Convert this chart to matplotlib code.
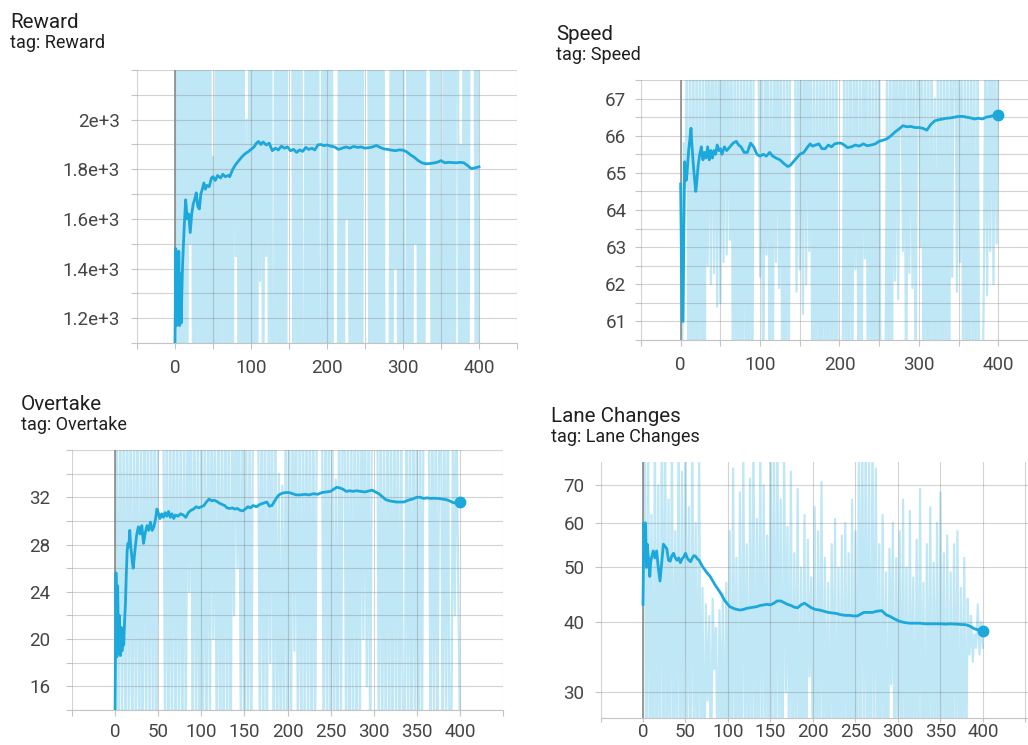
import matplotlib
matplotlib.use("Agg")
import matplotlib.pyplot as plt
from matplotlib.ticker import FixedLocator, FuncFormatter, NullFormatter, NullLocator

plt.rcParams['font.family'] = ['Roboto', 'DejaVu Sans']

# ---------------------------------------------------------------- data
RAW_STEPS = list(range(0, 401, 2))

REWARD_RAW = [
    1100, 2600, 420, 2900, 380, 2750, 600, 3000, 450, 2800,
    1500, 2900, 500, 2700, 350, 3100, 700, 2650, 400, 2950,
    550, 2800, 300, 3050, 620, 1850, 450, 2900, 380, 2750,
    700, 3150, 420, 2600, 530, 2950, 340, 2800, 610, 3000,
    1450, 2700, 450, 3100, 380, 2850, 520, 2000, 400, 2900,
    650, 2750, 330, 3050, 560, 2800, 1350, 3000, 480, 2650,
    1450, 2900, 400, 3200, 520, 700, 2800, 450, 2950, 300,
    2700, 550, 3050, 420, 2850, 3100, 2900, 2600, 640, 2950,
    500, 2800, 360, 3000, 600, 450, 2750, 520, 3150, 410,
    2900, 330, 2650, 570, 3050, 440, 620, 2800, 380, 2950,
    480, 2700, 350, 3100, 560, 410, 500, 600, 2750, 320,
    3000, 470, 2650, 1600, 2800, 540, 3050, 390, 2900, 610,
    2750, 430, 3150, 350, 2850, 2950, 2850, 2700, 460, 3000,
    580, 2800, 340, 2950, 610, 2650, 420, 3100, 500, 380,
    480, 560, 2700, 450, 3050, 1400, 2850, 390, 2750, 620,
    3000, 410, 560, 2800, 470, 2950, 350, 2700, 1500, 3100,
    520, 2650, 380, 3000, 600, 2850, 2750, 3000, 2900, 330,
    2800, 490, 3050, 560, 2700, 400, 620, 2950, 350, 2750,
    580, 3100, 450, 2850, 520, 2700, 2950, 400, 1900, 480,
    2900, 370, 2750, 610, 3000, 2800, 2900, 2650, 560, 2950,
    500,
]

SPEED_RAW = [
    64.7, 60.2, 65.8, 64.6, 69.0, 57.5, 68.5, 58.0, 69.5, 56.8,
    68.8, 57.2, 69.2, 58.3, 68.0, 56.5, 69.8, 62.5, 68.7, 62.0,
    69.1, 62.3, 68.4, 61.4, 69.3, 61.5, 68.9, 62.6, 69.6, 62.8,
    68.2, 63.2, 69.0, 57.4, 68.6, 58.2, 69.4, 56.9, 68.1, 58.8,
    69.7, 57.6, 68.3, 58.1, 69.2, 57.3, 68.8, 69.4, 68.2, 68.5,
    62.2, 69.0, 57.1, 68.7, 62.8, 69.5, 57.7, 68.4, 58.9, 69.1,
    62.6, 68.6, 61.9, 69.3, 58.0, 68.1, 57.2, 69.8, 58.5, 68.9,
    69.3, 69.0, 68.5, 61.8, 69.0, 62.4, 68.3, 61.2, 69.6, 62.0,
    68.7, 62.9, 69.2, 57.3, 68.4, 58.1, 69.0, 57.8, 68.6, 57.0,
    69.4, 58.3, 68.2, 57.4, 69.1, 58.7, 68.8, 57.1, 69.5, 58.0,
    57.5, 58.2, 58.6, 69.3, 57.2, 68.0, 58.9, 69.7, 57.6, 68.5,
    62.4, 69.0, 57.8, 68.3, 58.4, 69.4, 62.7, 68.6, 57.0, 69.2,
    58.5, 68.1, 57.3, 69.6, 58.0, 68.7, 57.9, 57.4, 57.8, 58.8,
    68.4, 57.6, 69.5, 58.3, 68.9, 62.1, 69.2, 61.6, 68.6, 68.0,
    62.9, 69.3, 57.7, 68.5, 62.3, 69.1, 61.9, 68.2, 58.4, 69.7,
    69.0, 63.0, 68.8, 57.5, 69.4, 58.1, 68.1, 57.3, 69.0, 58.6,
    67.0, 57.9, 68.7, 58.2, 69.3, 57.0, 68.5, 58.7, 69.1, 57.4,
    68.3, 62.2, 69.6, 68.9, 61.8, 69.2, 62.6, 68.4, 57.8, 69.0,
    58.1, 68.6, 57.4, 69.3, 58.9, 68.0, 57.2, 69.5, 58.3, 57.6,
    58.0, 62.4, 69.1, 61.7, 68.5, 62.9, 69.4, 62.0, 68.8, 63.1,
    68.0,
]

OVERTAKE_RAW = [
    14.0, 40.5, 9.5, 42.0, 11.0, 39.5, 8.5, 43.0, 10.5, 41.0,
    9.0, 40.0, 11.5, 42.5, 8.0, 39.0, 10.0, 44.0, 9.5, 41.5,
    11.0, 40.5, 8.5, 42.0, 10.0, 41.0, 43.0, 40.0, 39.5, 11.0,
    42.5, 8.0, 40.0, 10.5, 43.5, 9.0, 41.0, 11.5, 39.0, 8.5,
    42.0, 10.0, 40.5, 24.0, 43.0, 9.5, 41.5, 11.0, 39.5, 8.0,
    42.5, 10.5, 40.0, 9.0, 43.5, 11.5, 41.0, 20.0, 39.0, 8.5,
    42.0, 10.0, 40.5, 9.5, 43.0, 11.0, 41.5, 8.0, 39.5, 22.0,
    42.5, 26.0, 40.0, 10.5, 43.5, 9.0, 41.0, 11.5, 39.0, 8.5,
    42.0, 41.0, 40.0, 40.5, 9.5, 43.0, 11.0, 41.5, 8.0, 39.5,
    18.0, 42.5, 10.5, 40.0, 9.0, 34.0, 11.0, 33.0, 9.5, 42.0,
    10.5, 40.5, 8.5, 43.0, 19.0, 41.5, 11.0, 39.0, 9.0, 42.5,
    10.0, 40.0, 11.5, 43.5, 8.0, 41.0, 9.5, 39.5, 42.0, 41.0,
    40.5, 9.0, 43.0, 11.0, 41.5, 8.5, 39.0, 10.0, 33.5, 9.5,
    42.0, 11.5, 40.0, 43.5, 8.0, 41.0, 10.0, 39.5, 9.0, 42.5,
    10.5, 40.5, 11.0, 43.0, 20.0, 41.5, 16.0, 39.0, 8.5, 42.0,
    40.0, 41.5, 43.5, 9.5, 41.0, 11.5, 39.5, 8.0, 42.5, 10.5,
    40.5, 9.0, 43.0, 11.0, 41.5, 8.5, 39.0, 10.0, 9.5, 42.0,
    11.5, 40.0, 8.0, 43.5, 10.0, 41.0, 9.0, 39.5, 10.5, 42.5,
    41.0, 40.0, 40.5, 8.5, 43.0, 10.0, 41.5, 9.5, 39.0, 42.0,
    10.5, 40.0, 11.5, 43.5, 9.0, 8.5, 41.0, 22.0, 39.5, 25.0,
    12.0,
]

LANE_RAW = [
    43, 95, 18, 88, 22, 62, 16, 90, 20, 70,
    19, 85, 24, 100, 17, 66, 21, 92, 18, 58,
    23, 97, 16, 74, 20, 88, 25, 64, 19, 93,
    22, 60, 17, 80, 21, 46, 18, 43, 29, 41,
    20, 44, 33, 39, 19, 42, 24, 45, 18, 47,
    21, 58, 17, 75, 23, 52, 16, 68, 20, 80,
    24, 55, 18, 72, 21, 90, 17, 61, 22, 85,
    19, 70, 25, 57, 16, 95, 20, 88, 18, 100,
    22, 66, 17, 82, 30, 59, 21, 74, 19, 53,
    23, 69, 16, 50, 20, 62, 18, 56, 32, 48,
    21, 64, 17, 58, 23, 71, 19, 52, 22, 47,
    18, 55, 24, 61, 16, 50, 21, 57, 19, 60,
    22, 53, 17, 66, 20, 58, 18, 85, 23, 95,
    19, 90, 21, 80, 16, 88, 24, 75, 20, 55,
    18, 62, 22, 49, 17, 54, 31, 60, 20, 52,
    23, 58, 19, 66, 21, 50, 17, 63, 24, 48,
    18, 56, 22, 69, 20, 47, 16, 55, 21, 64,
    19, 51, 23, 60, 17, 68, 22, 53, 20, 57,
    18, 49, 21, 55, 24, 58, 17, 46, 22, 52,
    19, 44, 35, 41, 34, 38, 36, 43, 35, 40,
    36,
]

REWARD_STEPS = [0, 1, 2, 3, 4, 5, 6, 7, 8, 9, 10, 12, 14, 16, 18, 20, 22, 24,
                26, 28, 30, 32, 34, 36, 38, 40, 42, 45, 48, 50, 53, 56, 60, 63,
                66, 70, 72, 76, 80, 84, 88, 92, 96, 100, 104, 107, 110, 113, 116,
                120, 124, 128, 132, 136, 140, 144, 148, 152, 156, 160, 164, 168,
                172, 176, 180, 184, 188, 192, 196, 200, 205, 210, 215, 220, 225,
                230, 235, 240, 245, 250, 255, 260, 265, 270, 275, 280, 285, 290,
                295, 300, 305, 310, 315, 320, 325, 330, 335, 340, 345, 350, 355,
                360, 365, 370, 375, 380, 385, 390, 395, 400]
REWARD_SMOOTH = [1100, 1480, 1170, 1450, 1200, 1470, 1170, 1380, 1180, 1300,
                 1420, 1560, 1677, 1600, 1620, 1545, 1620, 1660, 1680, 1705,
                 1650, 1640, 1700, 1720, 1745, 1720, 1735, 1730, 1765, 1770,
                 1755, 1775, 1765, 1780, 1770, 1775, 1770, 1800, 1820, 1835,
                 1850, 1862, 1870, 1880, 1890, 1905, 1912, 1900, 1910, 1898,
                 1905, 1875, 1885, 1878, 1893, 1885, 1890, 1875, 1880, 1868,
                 1878, 1872, 1888, 1880, 1885, 1878, 1898, 1900, 1895, 1898,
                 1893, 1890, 1880, 1885, 1890, 1885, 1892, 1888, 1890, 1885,
                 1887, 1890, 1896, 1888, 1882, 1880, 1877, 1875, 1878, 1877,
                 1870, 1858, 1848, 1835, 1826, 1822, 1823, 1825, 1828, 1835,
                 1826, 1828, 1827, 1826, 1828, 1826, 1815, 1802, 1806, 1810]

SPEED_STEPS = [0, 1, 2, 3, 4, 5, 6, 7, 8, 9, 10, 12, 13, 14, 16, 18, 19, 20,
               22, 24, 26, 28, 30, 32, 34, 36, 38, 40, 42, 44, 46, 48, 50, 52,
               55, 58, 62, 66, 70, 73, 76, 80, 84, 88, 92, 96, 100, 104, 108,
               112, 116, 120, 125, 130, 135, 138, 142, 146, 150, 155, 160, 163,
               166, 170, 174, 178, 182, 186, 190, 194, 198, 202, 206, 210, 215,
               220, 225, 230, 235, 240, 245, 250, 255, 260, 265, 270, 275, 280,
               285, 290, 295, 300, 305, 310, 315, 320, 325, 330, 335, 340, 345,
               350, 355, 360, 365, 370, 375, 380, 385, 390, 395, 400]
SPEED_SMOOTH = [64.7, 62.5, 61.0, 61.0, 63.5, 65.3, 65.0, 64.8, 65.0, 65.3,
                65.6, 66.0, 66.2, 65.8, 65.2, 64.7, 64.5, 64.7, 65.2, 65.5,
                65.7, 65.35, 65.55, 65.4, 65.7, 65.35, 65.6, 65.4, 65.6, 65.5,
                65.75, 65.6, 65.65, 65.5, 65.7, 65.6, 65.7, 65.8, 65.85, 65.75,
                65.7, 65.55, 65.55, 65.8, 65.7, 65.5, 65.45, 65.5, 65.45, 65.55,
                65.45, 65.4, 65.35, 65.25, 65.17, 65.2, 65.3, 65.4, 65.5, 65.55,
                65.7, 65.78, 65.72, 65.75, 65.78, 65.65, 65.65, 65.75, 65.7,
                65.78, 65.8, 65.8, 65.75, 65.68, 65.7, 65.75, 65.72, 65.78,
                65.73, 65.75, 65.78, 65.85, 65.88, 65.92, 66.0, 66.1, 66.18,
                66.27, 66.24, 66.25, 66.22, 66.22, 66.2, 66.15, 66.3, 66.4,
                66.43, 66.45, 66.47, 66.48, 66.5, 66.52, 66.52, 66.5, 66.48,
                66.45, 66.47, 66.45, 66.5, 66.52, 66.55, 66.57]

OVERTAKE_STEPS = [0, 1, 2, 3, 4, 5, 6, 7, 8, 9, 10, 11, 12, 13, 14, 15, 16, 17,
                  18, 20, 21, 23, 25, 27, 29, 31, 33, 35, 37, 39, 41, 43, 45, 47,
                  48.5, 50, 52, 54, 56, 58, 60, 62, 64, 66, 68, 70, 73, 76, 79,
                  82, 85, 88, 91, 94, 97, 100, 103, 106, 109, 112, 115, 118, 121,
                  124, 127, 130, 133, 136, 139, 142, 145, 148, 151, 154, 157, 160,
                  164, 168, 172, 176, 179, 182, 186, 190, 194, 198, 202, 206, 210,
                  215, 220, 225, 230, 235, 240, 245, 250, 254, 257, 260, 264, 268,
                  272, 276, 280, 285, 290, 295, 298, 302, 306, 310, 314, 318, 322,
                  326, 330, 335, 340, 345, 350, 354, 358, 362, 366, 370, 375, 380,
                  384, 388, 392, 396, 400]
OVERTAKE_SMOOTH = [14.0, 25.6, 18.5, 24.5, 18.8, 22.0, 18.6, 21.0, 19.0, 20.5,
                   19.5, 21.5, 23.0, 25.5, 27.5, 28.1, 27.8, 29.2, 28.0, 26.5,
                   26.0, 27.5, 28.8, 29.5, 28.9, 29.6, 28.1, 29.0, 29.6, 29.2,
                   29.9, 29.2, 29.5, 30.2, 31.0, 30.7, 30.2, 30.6, 30.3, 30.7,
                   30.4, 30.8, 30.3, 30.6, 30.2, 30.5, 30.4, 30.6, 30.5, 30.3,
                   30.7, 30.9, 31.0, 31.2, 31.1, 31.2, 31.3, 31.6, 31.85, 31.7,
                   31.75, 31.65, 31.5, 31.4, 31.3, 31.1, 31.05, 31.1, 31.0, 31.05,
                   30.9, 30.85, 31.0, 31.2, 31.1, 31.3, 31.2, 31.4, 31.5, 31.6,
                   31.25, 31.3, 31.8, 32.2, 32.35, 32.4, 32.4, 32.3, 32.2, 32.2,
                   32.25, 32.2, 32.3, 32.25, 32.4, 32.45, 32.5, 32.7, 32.85, 32.8,
                   32.7, 32.5, 32.55, 32.5, 32.55, 32.5, 32.45, 32.55, 32.6, 32.45,
                   32.3, 32.05, 31.8, 31.7, 31.65, 31.6, 31.6, 31.6, 31.75, 31.85,
                   32.0, 32.0, 31.9, 31.95, 31.9, 31.92, 31.9, 31.85, 31.8, 31.7,
                   31.55, 31.5, 31.6]

LANE_STEPS = [0, 1, 2, 3, 4, 5, 6, 7, 8, 9, 10, 12, 14, 16, 18, 20, 22, 24, 26,
              28, 30, 32, 34, 36, 38, 40, 42, 44, 46, 48, 50, 52, 54, 56, 58, 60,
              62, 64, 66, 70, 75, 79, 85, 91, 96, 102, 108, 114, 118, 122, 126,
              130, 134, 138, 142, 146, 150, 154, 158, 162, 166, 170, 174, 178,
              182, 186, 190, 194, 198, 203, 208, 213, 218, 223, 228, 233, 238,
              243, 248, 252, 256, 260, 265, 270, 275, 281, 286, 291, 296, 302,
              308, 314, 320, 326, 332, 338, 344, 350, 356, 362, 368, 374, 380,
              385, 390, 395, 400]
LANE_SMOOTH = [43, 60, 56, 60, 50, 55, 52.7, 51, 48.2, 51, 52, 53.5, 52, 53.5,
               50, 47.3, 51, 55, 54.5, 54, 51.5, 51.3, 52.5, 53, 52, 51.5, 52,
               51, 51.8, 52.2, 53, 52, 51.5, 51.2, 52, 52.5, 52.3, 51.8, 51.5,
               50.2, 49, 48.2, 46.5, 45.1, 43.7, 42.6, 42.2, 42.0, 42.1, 42.3,
               42.4, 42.5, 42.6, 42.8, 42.9, 43.0, 42.9, 43.2, 43.6, 43.6, 43.3,
               43.0, 42.8, 42.5, 42.4, 42.9, 43.2, 42.8, 42.4, 42.1, 42.0, 41.8,
               41.6, 41.5, 41.4, 41.2, 41.1, 41.1, 41.0, 41.0, 41.3, 41.6, 41.6,
               41.6, 41.8, 41.9, 41.2, 40.9, 40.5, 40.1, 39.9, 39.8, 39.8, 39.8,
               39.7, 39.7, 39.7, 39.7, 39.65, 39.7, 39.65, 39.6, 39.55, 39.3,
               38.9, 38.7, 38.6]

REWARD_YTICKS = [1200, 1400, 1600, 1800, 2000]
SPEED_YTICKS = [61, 62, 63, 64, 65, 66, 67]
OVERTAKE_YTICKS = [16, 20, 24, 28, 32]
LANE_YTICKS = [30, 40, 50, 60, 70]
XTICKS_100 = [0, 100, 200, 300, 400]
XTICKS_50 = [0, 50, 100, 150, 200, 250, 300, 350, 400]

# ---------------------------------------------------------------- style
LINE = '#1ca8da'
RAW = '#bfe7f5'
GRID = '#7a7a7a'
TICKLBL = '#454545'
TITLE = '#1f1f1f'

W, H = 1028, 745
fig = plt.figure(figsize=(W / 100, H / 100), dpi=100)


def add_ax(left, top, right, bottom):
    return fig.add_axes([left / W, 1 - bottom / H, (right - left) / W, (bottom - top) / H])


def header(x, y_title, y_tag, name):
    fig.text(x / W, 1 - y_title / H, name, fontsize=14.8, color=TITLE, va='baseline', ha='left')
    fig.text(x / W, 1 - y_tag / H, 'tag: ' + name, fontsize=13, color=TITLE, va='baseline', ha='left')


def panel(ax, raw, steps, smooth, xlim, ylim, ymajor, yminor, xmajor, xminor,
          yfmt, ypad, xpad, xlen=4.5, end_dot=True, log=False):
    ax.plot(RAW_STEPS, raw, color=RAW, lw=1.6, zorder=1)
    ax.plot(steps, smooth, color=LINE, lw=2.0, zorder=3, solid_joinstyle='round')
    if end_dot:
        ax.plot([steps[-1]], [smooth[-1]], 'o', ms=7.5, color=LINE, zorder=4, clip_on=False)
    ax.axvline(0, color='#8c8c8c', lw=1.2, zorder=2.8)
    if log:
        ax.set_yscale('log')
    ax.set_xlim(*xlim)
    ax.set_ylim(*ylim)
    ax.yaxis.set_major_locator(FixedLocator(ymajor))
    ax.yaxis.set_major_formatter(FuncFormatter(yfmt))
    if yminor:
        ax.yaxis.set_minor_locator(FixedLocator(yminor))
    else:
        ax.yaxis.set_minor_locator(NullLocator())
    ax.yaxis.set_minor_formatter(NullFormatter())
    ax.xaxis.set_major_locator(FixedLocator(xmajor))
    ax.xaxis.set_minor_locator(FixedLocator(xminor))
    ax.xaxis.set_major_formatter(FuncFormatter(lambda v, p: f'{v:.0f}'))
    ax.xaxis.set_minor_formatter(NullFormatter())
    ax.set_axisbelow(False)
    ax.grid(True, which='both', color=GRID, alpha=0.33, lw=0.8)
    for side in ('top', 'left', 'right'):
        ax.spines[side].set_visible(False)
    ax.spines['bottom'].set_color('#c4c4c4')
    ax.spines['bottom'].set_linewidth(0.8)
    ax.tick_params(axis='both', which='both', width=0.8, color='#c4c4c4',
                   labelcolor=TICKLBL, labelsize=13.5)
    ax.tick_params(axis='y', which='both', length=4.5, pad=ypad)
    ax.tick_params(axis='x', which='both', length=xlen, pad=xpad)
    ax.set_facecolor('white')


def sci_fmt(v, p):
    if abs(v - 2000) < 1e-6:
        return '2e+3'
    return f'{v / 1000:.1f}e+3'


def int_fmt(v, p):
    return f'{v:.0f}'


# Reward
ax1 = add_ax(137, 70, 517, 343)
panel(ax1, REWARD_RAW, REWARD_STEPS, REWARD_SMOOTH, (-50, 450), (1100, 2200),
      REWARD_YTICKS, [1100, 1300, 1500, 1700, 1900, 2100, 2200],
      XTICKS_100, [-50, 50, 150, 250, 350, 450], sci_fmt, 8, 7, end_dot=False)
header(10, 28, 48, 'Reward')

# Speed
ax2 = add_ax(641, 80, 1028, 340)
panel(ax2, SPEED_RAW, SPEED_STEPS, SPEED_SMOOTH, (-50, 437.5), (60.5, 67.5),
      SPEED_YTICKS, [60.5, 61.5, 62.5, 63.5, 64.5, 65.5, 66.5, 67.5],
      XTICKS_100, [-50, 50, 150, 250, 350, 450], int_fmt, 6, 7)
header(556, 40, 60, 'Speed')

# Overtake
ax3 = add_ax(72, 450, 503, 710)
panel(ax3, OVERTAKE_RAW, OVERTAKE_STEPS, OVERTAKE_SMOOTH, (-50, 450), (14, 36),
      OVERTAKE_YTICKS, [14, 18, 22, 26, 30, 34, 36],
      XTICKS_50, [-50, 450], int_fmt, 11, 5)
header(21, 410, 430, 'Overtake')

# Lane Changes
ax4 = add_ax(600.5, 462, 1028, 718)
panel(ax4, LANE_RAW, LANE_STEPS, LANE_SMOOTH, (-50, 453), (27, 77),
      LANE_YTICKS, None, XTICKS_50, [-50, 450], int_fmt, 7, 0.5, xlen=3, log=True)
header(551, 422, 442, 'Lane Changes')

fig.savefig('out.png', dpi=100, facecolor='white')
